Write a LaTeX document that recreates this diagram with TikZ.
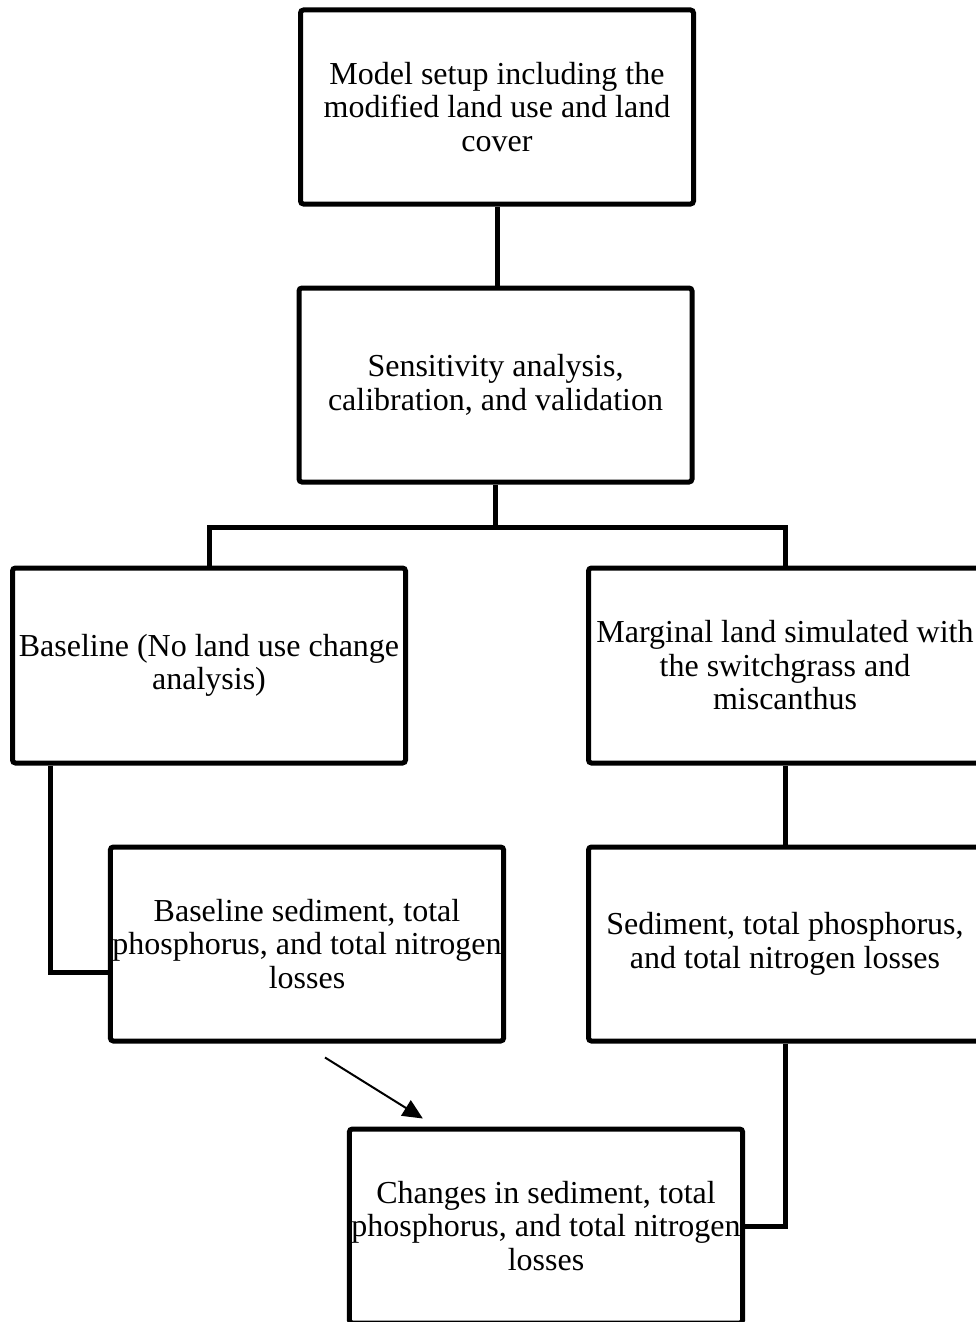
\documentclass[tikz,border=0pt]{standalone}
\usepackage{fontspec}
\setmainfont{Liberation Serif}
\usepackage{tikz}
\usetikzlibrary{positioning, arrows.meta, calc}

\begin{document}
\begin{tikzpicture}[
      x=0.5pt, y=-0.5pt,
      font=\fontsize{16}{16.75}\selectfont,
      stage/.style={draw, line width=2.5pt, rounded corners=1.5pt, minimum width=196.5pt, minimum height=97pt, align=center, inner sep=1pt},
      link/.style={line width=2.5pt},
      arr/.style={-{Triangle[length=10pt, width=9pt]}, line width=1pt}
    ]
    \useasboundingbox (0,0) rectangle (975,1322);
    %% top of the chain
    \node[stage] (setup) at (497,107) {Model setup including the\\modified land use and land\\cover};
    \node[stage] (sens) at (495.5,385) {Sensitivity analysis,\\calibration, and validation};
    \draw[link] (setup.south) -- (setup.south |- sens.north);
    %% two scenarios
    \node[stage, minimum height=97.5pt] (base) at (209,665.5) {Baseline (No land use change\\analysis)};
    \node[stage, minimum height=97.5pt] (marg) at (785,665.5) {Marginal land simulated with\\the switchgrass and\\miscanthus};
    \coordinate (split) at (497,527);
    \draw[link] (sens.south) -- (sens.south |- split);
    \draw[link] (base.north) |- (split) -| (marg.north);
    %% losses
    \node[stage] (bsed) at (307,944) {Baseline sediment, total\\phosphorus, and total nitrogen\\losses};
    \node[stage] (sed) at (785,944) {Sediment, total phosphorus,\\and total nitrogen losses};
    \draw[link] ([xshift=20pt]base.south west) |- ([yshift=-14pt]bsed.west);
    \draw[link] (marg.south) -- (sed.north);
    %% changes
    \node[stage] (chg) at (546,1226) {Changes in sediment, total\\phosphorus, and total nitrogen\\losses};
    \draw[link] (sed.south) |- (chg.east);
    \draw[arr] ([xshift=9pt, yshift=-7pt]bsed.south) -- ([xshift=38pt, yshift=4pt]chg.north west);
  \end{tikzpicture}
\end{document}
